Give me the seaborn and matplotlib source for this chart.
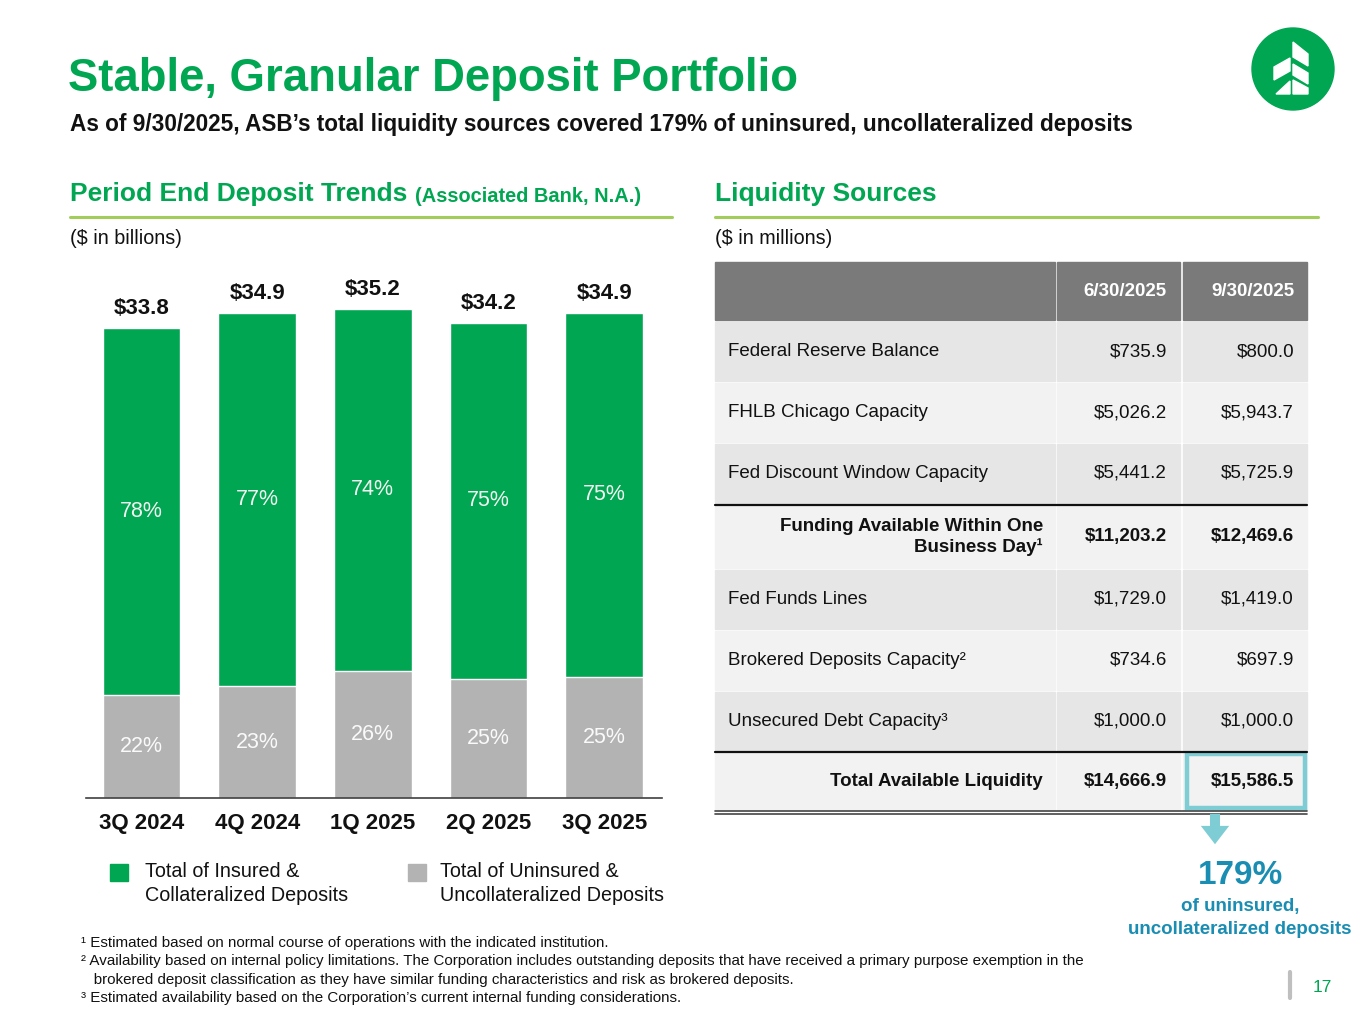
import matplotlib
matplotlib.use("Agg")
import matplotlib.pyplot as plt
import seaborn as sns
import pandas as pd
from matplotlib.patches import Rectangle, Circle, Polygon

# --- data -------------------------------------------------------------
quarters = ["3Q 2024", "4Q 2024", "1Q 2025", "2Q 2025", "3Q 2025"]
total_deposits = [33.8, 34.9, 35.2, 34.2, 34.9]
insured_pct = [78, 77, 74, 75, 75]
uninsured_pct = [22, 23, 26, 25, 25]

table_labels = [
    "Federal Reserve Balance",
    "FHLB Chicago Capacity",
    "Fed Discount Window Capacity",
    "Funding Available Within One\nBusiness Day\u00b9",
    "Fed Funds Lines",
    "Brokered Deposits Capacity\u00b2",
    "Unsecured Debt Capacity\u00b3",
    "Total Available Liquidity",
]
col_q2 = ["$735.9", "$5,026.2", "$5,441.2", "$11,203.2", "$1,729.0", "$734.6", "$1,000.0", "$14,666.9"]
col_q3 = ["$800.0", "$5,943.7", "$5,725.9", "$12,469.6", "$1,419.0", "$697.9", "$1,000.0", "$15,586.5"]
table_header = ["6/30/2025", "9/30/2025"]
bold_rows = [3, 7]

coverage = "179%"

footnotes = [
    "\u00b9 Estimated based on normal course of operations with the indicated institution.",
    "\u00b2 Availability based on internal policy limitations. The Corporation includes outstanding deposits that have received a primary purpose exemption in the",
    "   brokered deposit classification as they have similar funding characteristics and risk as brokered deposits.",
    "\u00b3 Estimated availability based on the Corporation\u2019s current internal funding considerations.",
]

GREEN = "#00A651"
GRAY = "#B3B3B3"
LINE_GREEN = "#A2CD5A"
TEAL = "#1A8DB3"
TEAL_LIGHT = "#7FCDD4"
INK = "#111111"

sns.set_style("white")
plt.rcParams["font.family"] = ["Liberation Sans", "DejaVu Sans"]

W, H = 1365, 1024
fig = plt.figure(figsize=(W / 100, H / 100), dpi=100)

# --- stacked bar chart ------------------------------------------------
df = pd.DataFrame({"quarter": quarters, "total": total_deposits, "unins_pct": uninsured_pct, "ins_pct": insured_pct})
df["uninsured"] = df["total"] * df["unins_pct"] / 100

ax = fig.add_axes([86 / W, 1 - 798 / H, 576 / W, 528 / H])
sns.barplot(data=df, x="quarter", y="total", color=GREEN, saturation=1, width=0.67, ax=ax)
sns.barplot(data=df, x="quarter", y="uninsured", color=GRAY, saturation=1, width=0.67, ax=ax)
ax.set_xlim(-0.48, 4.5)
ax.set_ylim(0, 38)
ax.set_xlabel("")
ax.set_ylabel("")
ax.set_yticks([])
for s in ["left", "top", "right"]:
    ax.spines[s].set_visible(False)
ax.spines["bottom"].set_color("#404040")
ax.spines["bottom"].set_linewidth(1.2)
ax.tick_params(axis="x", length=0, pad=11)
for lbl in ax.get_xticklabels():
    lbl.set_fontsize(16)
    lbl.set_fontweight("bold")
    lbl.set_color(INK)

for i, row in df.iterrows():
    ax.annotate(f"${row['total']:.1f}", (i, row["total"]), xytext=(0, 14), textcoords="offset points",
                ha="center", va="center", fontsize=16, fontweight="bold", color=INK)
    ax.text(i, row["uninsured"] + (row["total"] - row["uninsured"]) / 2, f"{row['ins_pct']}%",
            ha="center", va="center", fontsize=15.5, color="#F2F7F2")
    ax.text(i, row["uninsured"] / 2, f"{row['unins_pct']}%",
            ha="center", va="center", fontsize=15.5, color="#FAFAFA")

# --- overlay in pixel coordinates -------------------------------------
ov = fig.add_axes([0, 0, 1, 1])
ov.set_xlim(0, W)
ov.set_ylim(H, 0)
ov.axis("off")

ov.text(68, 79, "Stable, Granular Deposit Portfolio", fontsize=32.8, fontweight="bold", color=GREEN, va="center")
ov.text(70, 125, "As of 9/30/2025, ASB\u2019s total liquidity sources covered 179% of uninsured, uncollateralized deposits",
        fontsize=16.3, fontweight="bold", color=INK, va="center")

# logo
ov.add_patch(Circle((1293, 69), 41, color=GREEN))
for pts in [
    [(1293, 42), (1308, 54), (1308, 66), (1293, 57)],
    [(1293, 64), (1308, 73), (1308, 84), (1293, 75)],
    [(1293, 80), (1308, 88), (1308, 94), (1293, 94)],
    [(1290, 58), (1274, 67), (1274, 80), (1290, 71)],
    [(1290, 81), (1276, 94), (1290, 94)],
]:
    ov.add_patch(Polygon(pts, closed=True, color="white"))

# section headers
ov.text(70, 194, "Period End Deposit Trends", fontsize=19, fontweight="bold", color=GREEN, va="center")
ov.text(415, 196, "(Associated Bank, N.A.)", fontsize=14.4, fontweight="bold", color=GREEN, va="center")
ov.plot([70, 672], [217, 217], color=LINE_GREEN, lw=2.2)
ov.text(70, 238, "($ in billions)", fontsize=14.2, color=INK, va="center")

ov.text(715, 194, "Liquidity Sources", fontsize=19, fontweight="bold", color=GREEN, va="center")
ov.plot([715, 1318], [217, 217], color=LINE_GREEN, lw=2.2)
ov.text(715, 238, "($ in millions)", fontsize=14.2, color=INK, va="center")

# legend
ov.add_patch(Rectangle((110, 864), 18, 17, color=GREEN))
ov.text(145, 862, "Total of Insured &\nCollateralized Deposits", fontsize=14.2, color=INK, va="top",
        linespacing=1.35)
ov.add_patch(Rectangle((408, 864), 18, 17, color=GRAY))
ov.text(440, 862, "Total of Uninsured &\nUncollateralized Deposits", fontsize=14.2, color=INK, va="top",
        linespacing=1.35)

# table
FS = 13.5
cols = [(715, 1055), (1057, 1180), (1183, 1307)]
ov.add_patch(Rectangle((cols[0][0], 262), cols[0][1] - cols[0][0], 58, color="#7A7A7A"))
for (x0, x1), h in zip(cols[1:], table_header):
    ov.add_patch(Rectangle((x0, 262), x1 - x0, 58, color="#7A7A7A"))
    ov.text(x1 - 13, 292, h, ha="right", va="center", fontsize=FS, fontweight="bold", color="white")

row_tops = [322, 383, 444, 506, 570, 631, 692, 753]
row_bots = [381, 442, 503, 568, 629, 690, 750, 810]
for i, lab in enumerate(table_labels):
    y0, y1 = row_tops[i], row_bots[i]
    yc = (y0 + y1) / 2
    fc = "#E6E6E6" if i % 2 == 0 else "#F2F2F2"
    for x0, x1 in cols:
        ov.add_patch(Rectangle((x0, y0), x1 - x0, y1 - y0, color=fc))
    bold = i in bold_rows
    if bold:
        ov.text(1043, yc, lab, ha="right", va="center", fontsize=FS, fontweight="bold", color=INK,
                linespacing=1.2)
    else:
        ov.text(728, yc, lab, ha="left", va="center", fontsize=FS, color=INK)
    weight = "bold" if bold else "normal"
    ov.text(1167, yc, col_q2[i], ha="right", va="center", fontsize=FS, fontweight=weight, color=INK)
    ov.text(1294, yc, col_q3[i], ha="right", va="center", fontsize=FS, fontweight=weight, color=INK)

ov.plot([715, 1307], [504.5, 504.5], color=INK, lw=1.6)
ov.plot([715, 1307], [751.5, 751.5], color=INK, lw=1.6)
ov.plot([715, 1307], [810.5, 810.5], color="#444444", lw=1.2)
ov.plot([715, 1307], [814, 814], color="#444444", lw=1.2)

# callout
ov.add_patch(Rectangle((1187, 754), 118, 54, fill=False, edgecolor=TEAL_LIGHT, lw=3.2))
ov.annotate("", xy=(1215, 847), xytext=(1215, 811),
            arrowprops=dict(arrowstyle="simple,head_width=1.7,head_length=1.1,tail_width=0.6",
                            mutation_scale=12, color=TEAL_LIGHT, lw=0))
ov.text(1240, 876, coverage, ha="center", va="center", fontsize=24, fontweight="bold", color=TEAL)
ov.text(1240, 907, "of uninsured,", ha="center", va="center", fontsize=13.5, fontweight="bold", color=TEAL)
ov.text(1240, 930, "uncollateralized deposits", ha="center", va="center", fontsize=13.5, fontweight="bold", color=TEAL)

# footnotes
for k, line in enumerate(footnotes):
    ov.text(81, 943 + k * 18.3, line, ha="left", va="center", fontsize=10.9, color=INK)

# page number
ov.plot([1290, 1290], [972, 998], color="#BFBFBF", lw=3)
ov.text(1322, 988, "17", ha="center", va="center", fontsize=12.5, color=GREEN)

fig.savefig("out.png", dpi=100)
